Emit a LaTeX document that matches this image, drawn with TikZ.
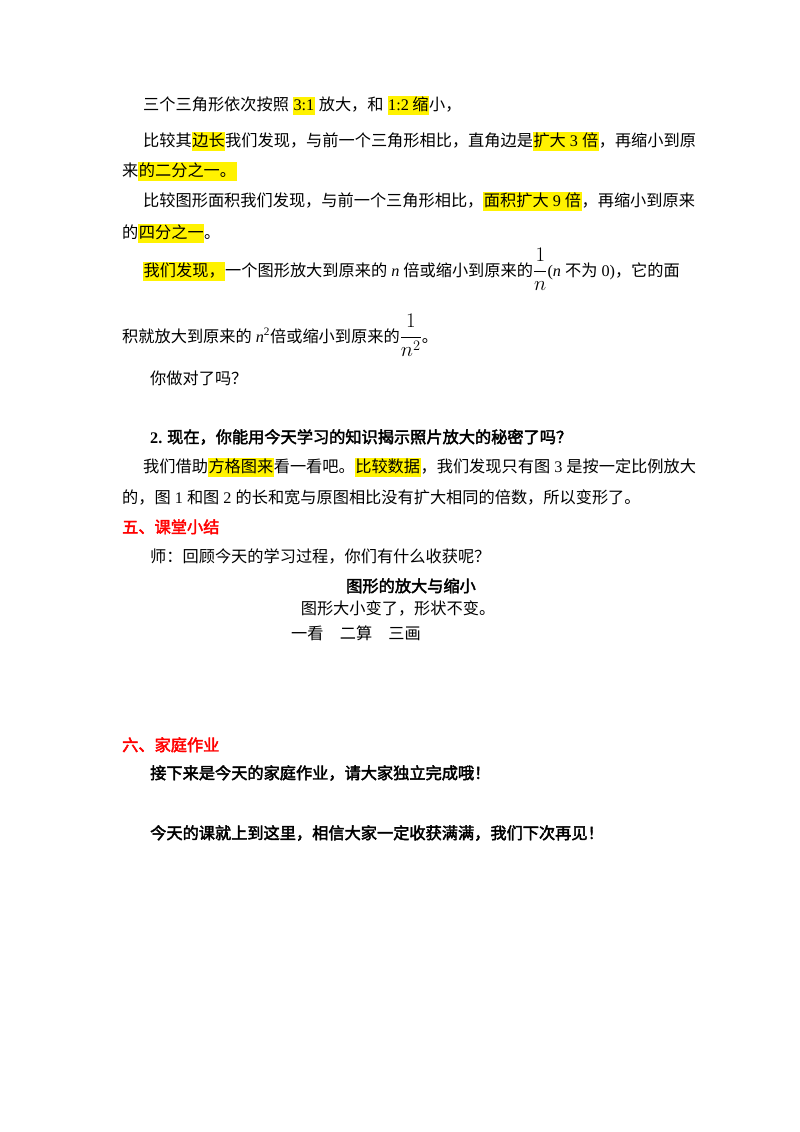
\documentclass[tikz,border=0pt]{standalone}
\usepackage{fontspec}
\setmainfont{Noto Sans CJK SC}
\newfontfamily\cjkb{Noto Sans CJK SC}[FakeBold=2.5]
\newfontfamily\tms{Liberation Serif}
\newcommand{\hlt}[1]{{\setlength\fboxsep{0.5pt}\colorbox{yellow}{\vphantom{Ag国}#1}}}
\newcommand{\lt}[1]{{\tms #1}}
\newcommand{\lti}[1]{{\tms\itshape #1}}
\newcommand{\bigfr}[2]{{\fontsize{21}{24}\selectfont$\displaystyle\frac{#1}{#2}$}}
\tikzset{ln/.style={anchor=base west,inner sep=0pt,font=\fontsize{16.2}{18}\selectfont},
 hd/.style={ln,font=\fontsize{16.2}{18}\selectfont\cjkb},
 red/.style={hd,text=red}}
\begin{document}
\begin{tikzpicture}[x=1pt,y=-1pt]
\useasboundingbox[fill=white] (0,0) rectangle (800,1132);
\node[ln] (l1) at (143,110) {三个三角形依次按照\lt{ }\hlt{\lt{3:1}}\lt{ }放大，和\lt{ }\hlt{\lt{1:2} 缩}小，};
\node[ln] (l2) at (143,146) {比较其\hlt{边长}我们发现，与前一个三角形相比，直角边是\hlt{扩大\lt{ 3 }倍}，再缩小到原};
\node[ln] (l3) at (122,176) {来\hlt{的二分之一。}};
\node[ln] (l4) at (143,206) {比较图形面积我们发现，与前一个三角形相比，\hlt{面积扩大\lt{ 9 }倍}，再缩小到原来};
\node[ln] (l5) at (122,238) {的\hlt{四分之一}。};
\node[ln] (l6) at (143,276) {\hlt{我们发现，}一个图形放大到原来的\lt{ }\lti{n}\lt{ }倍或缩小到原来的\bigfr{1}{n}\lt{(}\lti{n}\lt{ }不为\lt{ 0)}，它的面};
\node[ln] (l7) at (122,342) {积就放大到原来的\lt{ }\lti{n}\lt{\textsuperscript{2}}倍或缩小到原来的\bigfr{1}{n^{2}}。};
\node[ln] (l8) at (150,384) {你做对了吗？};
\node[hd] (q2) at (150,443) {\lt{\bfseries 2.} 现在，你能用今天学习的知识揭示照片放大的秘密了吗？};
\node[ln] (p1) at (143,472) {我们借助\hlt{方格图来}看一看吧。\hlt{比较数据}，我们发现只有图\lt{ 3 }是按一定比例放大};
\node[ln] (p2) at (122,503) {的，图\lt{ 1 }和图\lt{ 2 }的长和宽与原图相比没有扩大相同的倍数，所以变形了。};
\node[red] (h5) at (122,533) {五、课堂小结};
\node[ln] (s1) at (150,562) {师：回顾今天的学习过程，你们有什么收获呢？};
\node[hd,anchor=base] (t1) at (411,592) {图形的放大与缩小};
\node[ln,anchor=base] (t2) at (398,614) {图形大小变了，形状不变。};
\node[ln] (t3) at (291,639) {一看\quad 二算\quad 三画};
\node[red] (h6) at (122,751) {六、家庭作业};
\node[hd] (w1) at (150,779) {接下来是今天的家庭作业，请大家独立完成哦！};
\node[hd] (w2) at (150,839) {今天的课就上到这里，相信大家一定收获满满，我们下次再见！};
\end{tikzpicture}
\end{document}
